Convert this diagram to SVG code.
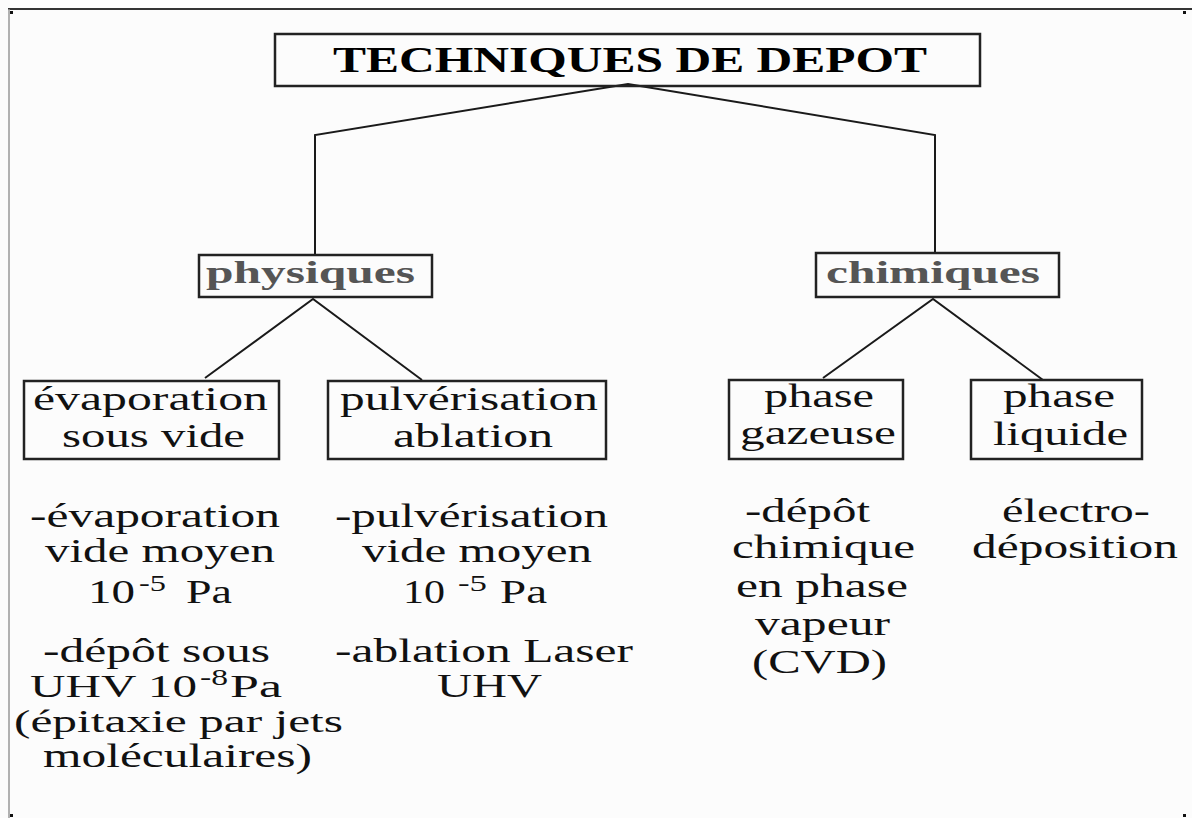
<svg xmlns="http://www.w3.org/2000/svg" width="1192" height="818" viewBox="0 0 1192 818">
<style>
.box{fill:none;stroke:#222;stroke-width:2.5}
.con{fill:none;stroke:#1a1a1a;stroke-width:2}
.t{font-family:"Liberation Serif","Times New Roman",serif;fill:#111;font-size:34px}
.sup{font-family:"Liberation Serif","Times New Roman",serif;fill:#111;font-size:24px}
.h{font-family:"Liberation Serif","Times New Roman",serif;font-weight:bold;fill:#555;font-size:32px}
.title{font-family:"Liberation Serif","Times New Roman",serif;font-weight:bold;fill:#000;font-size:36px}
</style>
<rect x="0" y="0" width="1192" height="818" fill="#fcfcfc"/>
<line x1="8" y1="9" x2="1192" y2="9" stroke="#333" stroke-width="2"/>
<line x1="9" y1="9" x2="9" y2="818" stroke="#999" stroke-width="1.5"/>
<rect x="10" y="11" width="3" height="3" fill="#111"/>
<rect x="1183" y="11" width="3" height="3" fill="#111"/>
<rect x="10" y="814" width="3" height="3" fill="#111"/>
<rect x="1183" y="814" width="3" height="3" fill="#111"/>

<g id="connectors">
<polyline class="con" points="315,256 315,135 628,84 935,135 935,254"/>
<polyline class="con" points="205,378 313,299 422,380"/>
<polyline class="con" points="823,378 933,299 1043,380"/>
</g>

<g id="title">
<rect class="box" x="275" y="34" width="705" height="52"/>
<text class="title" x="333" y="72" textLength="594" lengthAdjust="spacingAndGlyphs">TECHNIQUES DE DEPOT</text>
</g>

<g id="physiques">
<rect class="box" x="199" y="255" width="233" height="42"/>
<text class="h" x="206" y="283" textLength="209" lengthAdjust="spacingAndGlyphs">physiques</text>
</g>

<g id="chimiques">
<rect class="box" x="816" y="253" width="243" height="44"/>
<text class="h" x="826" y="283" textLength="214" lengthAdjust="spacingAndGlyphs">chimiques</text>
</g>

<g id="evaporation">
<rect class="box" x="24" y="381" width="255" height="78"/>
<text class="t" x="33" y="410" textLength="235" lengthAdjust="spacingAndGlyphs">évaporation</text>
<text class="t" x="62" y="447" textLength="183" lengthAdjust="spacingAndGlyphs">sous vide</text>
</g>

<g id="pulverisation">
<rect class="box" x="328" y="381" width="278" height="78"/>
<text class="t" x="340" y="410" textLength="258" lengthAdjust="spacingAndGlyphs">pulvérisation</text>
<text class="t" x="393" y="447" textLength="160" lengthAdjust="spacingAndGlyphs">ablation</text>
</g>

<g id="phase-gazeuse">
<rect class="box" x="729" y="380" width="174" height="79"/>
<text class="t" x="764" y="407" textLength="110" lengthAdjust="spacingAndGlyphs">phase</text>
<text class="t" x="740" y="444" textLength="156" lengthAdjust="spacingAndGlyphs">gazeuse</text>
</g>

<g id="phase-liquide">
<rect class="box" x="971" y="380" width="171" height="79"/>
<text class="t" x="1003" y="407" textLength="112" lengthAdjust="spacingAndGlyphs">phase</text>
<text class="t" x="993" y="445" textLength="135" lengthAdjust="spacingAndGlyphs">liquide</text>
</g>

<g id="text-evaporation">
<text class="t" x="30" y="527" textLength="250" lengthAdjust="spacingAndGlyphs">-évaporation</text>
<text class="t" x="45" y="562" textLength="230" lengthAdjust="spacingAndGlyphs">vide moyen</text>
<text class="t" x="88" y="603" textLength="47" lengthAdjust="spacingAndGlyphs">10</text>
<text class="sup" x="139" y="591" textLength="27" lengthAdjust="spacingAndGlyphs">-5</text>
<text class="t" x="186" y="603" textLength="46" lengthAdjust="spacingAndGlyphs">Pa</text>
<text class="t" x="43" y="662" textLength="227" lengthAdjust="spacingAndGlyphs">-dépôt sous</text>
<text class="t" x="30" y="697" textLength="167" lengthAdjust="spacingAndGlyphs" style="font-size:32px">UHV 10</text>
<text class="sup" x="200" y="685" textLength="28" lengthAdjust="spacingAndGlyphs">-8</text>
<text class="t" x="230" y="697" textLength="52" lengthAdjust="spacingAndGlyphs" style="font-size:32px">Pa</text>
<text class="t" x="14" y="732" textLength="329" lengthAdjust="spacingAndGlyphs" style="font-size:31px">(épitaxie par jets</text>
<text class="t" x="43" y="767" textLength="269" lengthAdjust="spacingAndGlyphs">moléculaires)</text>
</g>

<g id="text-pulverisation">
<text class="t" x="335" y="527" textLength="273" lengthAdjust="spacingAndGlyphs">-pulvérisation</text>
<text class="t" x="362" y="562" textLength="230" lengthAdjust="spacingAndGlyphs">vide moyen</text>
<text class="t" x="403" y="603" textLength="42" lengthAdjust="spacingAndGlyphs">10</text>
<text class="sup" x="458" y="591" textLength="29" lengthAdjust="spacingAndGlyphs">-5</text>
<text class="t" x="500" y="603" textLength="47" lengthAdjust="spacingAndGlyphs">Pa</text>
<text class="t" x="335" y="662" textLength="298" lengthAdjust="spacingAndGlyphs">-ablation Laser</text>
<text class="t" x="437" y="697" textLength="105" lengthAdjust="spacingAndGlyphs">UHV</text>
</g>

<g id="text-cvd">
<text class="t" x="745" y="522" textLength="125" lengthAdjust="spacingAndGlyphs">-dépôt</text>
<text class="t" x="732" y="558" textLength="183" lengthAdjust="spacingAndGlyphs">chimique</text>
<text class="t" x="736" y="597" textLength="172" lengthAdjust="spacingAndGlyphs">en phase</text>
<text class="t" x="755" y="635" textLength="135" lengthAdjust="spacingAndGlyphs">vapeur</text>
<text class="t" x="752" y="673" textLength="135" lengthAdjust="spacingAndGlyphs">(CVD)</text>
</g>

<g id="text-electro">
<text class="t" x="1002" y="522" textLength="148" lengthAdjust="spacingAndGlyphs">électro-</text>
<text class="t" x="972" y="558" textLength="206" lengthAdjust="spacingAndGlyphs">déposition</text>
</g>
</svg>
